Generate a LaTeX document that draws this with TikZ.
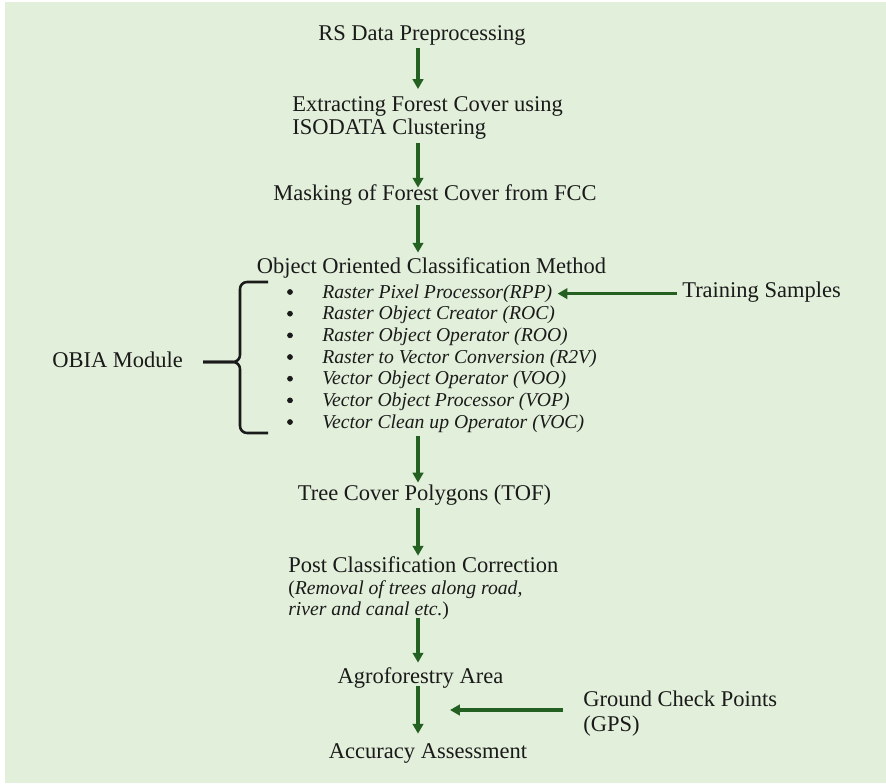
\documentclass[tikz,border=0pt]{standalone}
\usepackage{fontspec}
\setmainfont{Liberation Serif}
\usepackage{tikz}
\usetikzlibrary{arrows.meta,positioning}

\definecolor{bggreen}{RGB}{226,239,218}
\definecolor{flowgreen}{RGB}{36,96,34}
\definecolor{ink}{RGB}{26,26,26}

\tikzset{
  lbl/.style={inner sep=0pt,text=ink,text height=0.7em,text depth=0.22em,
    font=\fontsize{16pt}{16.4pt}\selectfont},
  lbls/.style={inner sep=0pt,text=ink,align=left},
  itm/.style={inner sep=0pt,text=ink,text height=0.7em,text depth=0.22em,
    font=\fontsize{14pt}{15pt}\selectfont\itshape},
  flow/.style={draw=flowgreen,line width=2.3pt,-{Triangle[width=7.5pt,length=7pt]}},
  brace/.style={draw=ink,line width=1.8pt,rounded corners=5pt}
}

\begin{document}
\begin{tikzpicture}
[x=0.025cm,y=-0.025cm,
 bullet/.style={circle,draw=ink,fill=ink,inner sep=0pt,minimum size=3.6pt}]
\useasboundingbox (0,0) rectangle (886,783);
\fill[white] (0,0) rectangle (886,783);
\fill[bggreen] (5,2) rectangle (886,783);

% main chain
\node[lbl,anchor=base] (rs) at (422,40) {RS Data Preprocessing};
\node[lbls,anchor=north west,font=\fontsize{16pt}{16.4pt}\selectfont] (ex) at (292,96.5)
  {Extracting Forest Cover using\\ISODATA Clustering};
\node[lbl,anchor=base] (mask) at (435,200) {Masking of Forest Cover from FCC};
\node[lbl,anchor=base] (ooc) at (431.5,273) {Object Oriented Classification Method};

% OBIA steps
\foreach \txt [count=\i] in {Raster Pixel Processor(RPP),
    Raster Object Creator (ROC),
    Raster Object Operator (ROO),
    Raster to Vector Conversion (R2V),
    Vector Object Operator (VOO),
    Vector Object Processor (VOP),
    Vector Clean up Operator (VOC)}
{
  \node[itm,anchor=base west] (it\i) at (322,{298+21.67*(\i-1)}) {\txt};
  \node[bullet] (b\i) at (290,{292+21.67*(\i-1)}) {};
}

\node[lbl,anchor=base west] (train) at (682,297) {Training Samples};
\node[lbl,anchor=base west] (obia) at (52,367) {OBIA Module};

\node[lbl,anchor=base] (tof) at (424.5,500) {Tree Cover Polygons (TOF)};
\node[lbl,anchor=base west] (pcc) at (288,572) {Post Classification Correction};
\node[lbls,anchor=north west,font=\fontsize{14pt}{14.9pt}\selectfont] (pcn) at (288,580.5)
  {(\textit{Removal of trees along road,}\\\textit{river and canal etc.})};
\node[lbl,anchor=base] (agro) at (420.5,683) {Agroforestry Area};
\node[lbl,anchor=base] (acc) at (428,758) {Accuracy Assessment};
\node[lbls,anchor=north west,font=\fontsize{16pt}{17.8pt}\selectfont] (gcp) at (583,690.5)
  {Ground Check Points\\(GPS)};

\coordinate (col) at (418,0);
\coordinate (gpstip) at (450,710);

% arrows
\draw[flow,shorten <=3.6pt,shorten >=5.3pt] (rs.south -| col) -- (ex.north -| col);
\draw[flow,shorten <=2.1pt,shorten >=1.6pt] (ex.south -| col) -- (mask.north -| col);
\draw[flow,shorten <=1.4pt,shorten >=7.3pt] (mask.south -| col) -- (ooc.north -| col);
\draw[flow,shorten <=3.3pt,shorten >=5.2pt] (it7.south -| col) -- (tof.north -| col);
\draw[flow,shorten <=3.6pt,shorten >=4.4pt] (tof.south -| col) -- (pcc.north -| col);
\draw[flow,shorten <=-1.6pt,shorten >=7.3pt] (pcn.south -| col) -- (agro.north -| col);
\draw[flow,shorten >=10.1pt] (agro.south -| col) -- (acc.north -| col);
\draw[flow,shorten <=3.6pt,shorten >=3.6pt] (train.west) -- (train.west -| it1.east);
\draw[flow,shorten <=14.2pt] (gcp.west |- gpstip) -- (gpstip);

% brace
\draw[brace] (268,282) -| (240,362) -- (203,362);
\draw[brace] (203,362) -| (240,433) -- (268,433);
\end{tikzpicture}
\end{document}
